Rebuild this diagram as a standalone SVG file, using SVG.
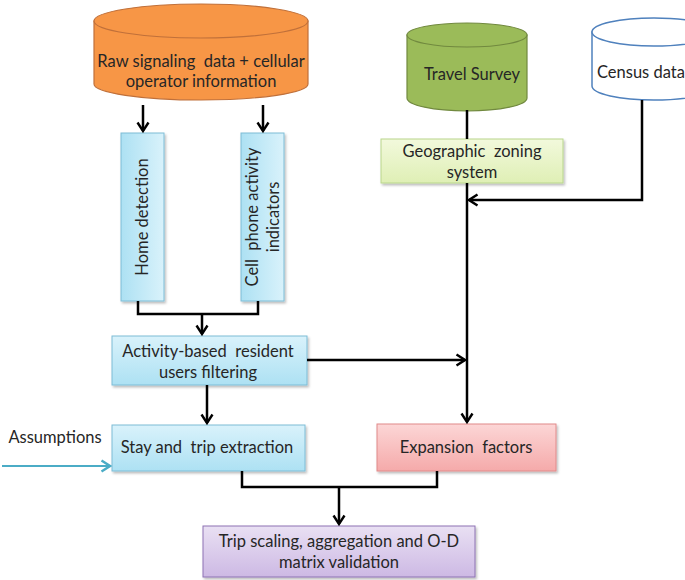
<svg xmlns="http://www.w3.org/2000/svg" width="685" height="580" viewBox="0 0 685 580" xml:space="preserve">
<defs>
<linearGradient id="gBlue" x1="0" y1="0" x2="0" y2="1"><stop offset="0" stop-color="#d9f2fb"/><stop offset="1" stop-color="#ade1f3"/></linearGradient>
<linearGradient id="gBlueH" x1="0" y1="0" x2="1" y2="0"><stop offset="0" stop-color="#ade1f3"/><stop offset="1" stop-color="#d9f2fb"/></linearGradient>
<linearGradient id="gPink" x1="0" y1="0" x2="0" y2="1"><stop offset="0" stop-color="#fcd6d6"/><stop offset="1" stop-color="#f5aaaa"/></linearGradient>
<linearGradient id="gPurple" x1="0" y1="0" x2="0" y2="1"><stop offset="0" stop-color="#e9e0f3"/><stop offset="1" stop-color="#cdb9e4"/></linearGradient>
<linearGradient id="gGeo" x1="0" y1="0" x2="0" y2="1"><stop offset="0" stop-color="#f2f9dc"/><stop offset="1" stop-color="#dfefb5"/></linearGradient>
<filter id="sh" x="-10%" y="-10%" width="130%" height="140%"><feDropShadow dx="1.5" dy="2" stdDeviation="1.2" flood-color="#000" flood-opacity="0.25"/></filter>
<marker id="arr" viewBox="0 0 12 14" refX="10" refY="7" markerWidth="12" markerHeight="14" markerUnits="userSpaceOnUse" orient="auto"><path d="M1.5,1.5 L10,7 L1.5,12.5" fill="none" stroke="#000" stroke-width="2.4"/></marker>
<marker id="arrB" viewBox="0 0 12 14" refX="10" refY="7" markerWidth="12" markerHeight="14" markerUnits="userSpaceOnUse" orient="auto"><path d="M1.5,1.5 L10,7 L1.5,12.5" fill="none" stroke="#4bacc6" stroke-width="2.4"/></marker>
</defs>
<style>
text{font-family:Lato,"Open Sans","Liberation Sans",sans-serif;font-size:16.5px;fill:#262626;text-anchor:middle;white-space:pre}
.c{fill:none;stroke:#000;stroke-width:2.5}
.blue{fill:url(#gBlue);stroke:#7dbcd6;stroke-width:1;filter:url(#sh)}
.blueV{fill:url(#gBlueH);stroke:#7dbcd6;stroke-width:1;filter:url(#sh)}
.box{filter:url(#sh)}
</style>
<rect width="685" height="580" fill="#fff"/>

<g id="raw">
<path d="M94,21 L94,84 A107,16 0 0 0 308,84 L308,21 Z" fill="#f79646" stroke="#c0703a" stroke-width="1.2"/>
<ellipse cx="201" cy="21" rx="107" ry="17" fill="#f79646" stroke="#c0703a" stroke-width="1.2"/>
<text x="201" y="67">Raw signaling  data + cellular</text>
<text x="201" y="87">operator information</text>
</g>

<g id="travel">
<path d="M407,35 L407,98 A60,13 0 0 0 527,98 L527,35 Z" fill="#9bbb59" stroke="#71893f" stroke-width="1.2"/>
<ellipse cx="467" cy="35" rx="60" ry="12" fill="#9bbb59" stroke="#71893f" stroke-width="1.2"/>
<text x="472" y="80">Travel Survey</text>
</g>

<g id="census">
<path d="M592,32 L592,86 A62,14 0 0 0 716,86 L716,32 Z" fill="#fff" stroke="#4f81bd" stroke-width="1.5"/>
<ellipse cx="654" cy="32" rx="62" ry="14" fill="#fff" stroke="#4f81bd" stroke-width="1.5"/>
<text x="597" y="78" style="text-anchor:start">Census data</text>
</g>

<g id="geo">
<rect x="381" y="139" width="182" height="44" fill="url(#gGeo)" stroke="#b9d68c" stroke-width="1" class="box"/>
<text x="472" y="157">Geographic  zoning</text>
<text x="472" y="178">system</text>
</g>

<g id="home">
<rect x="121" y="133" width="43" height="168" class="blueV"/>
<text transform="translate(148,217) rotate(-90)">Home detection</text>
</g>

<g id="cell">
<rect x="241" y="133" width="43" height="168" class="blueV"/>
<text transform="translate(258,217) rotate(-90)">Cell  phone activity</text>
<text transform="translate(279,217) rotate(-90)">indicators</text>
</g>

<g id="activity">
<rect x="112" y="336" width="195" height="49" class="blue"/>
<text x="208" y="357">Activity-based  resident</text>
<text x="208" y="378">users filtering</text>
</g>

<g id="stay">
<rect x="112" y="425" width="193" height="46" class="blue"/>
<text x="207" y="453">Stay and  trip extraction</text>
</g>

<g id="expansion">
<rect x="377" y="424" width="179" height="47" fill="url(#gPink)" stroke="#e08a8a" stroke-width="1" class="box"/>
<text x="466" y="453">Expansion  factors</text>
</g>

<g id="trip">
<rect x="203" y="526" width="272" height="51" fill="url(#gPurple)" stroke="#8d72b3" stroke-width="1" class="box"/>
<text x="339" y="547">Trip scaling, aggregation and O-D</text>
<text x="339" y="568">matrix validation</text>
</g>

<g id="assumptions">
<text x="55" y="443">Assumptions</text>
</g>

<g id="connectors">
<line x1="143" y1="105" x2="143" y2="131" class="c" marker-end="url(#arr)"/>
<line x1="263" y1="105" x2="263" y2="131" class="c" marker-end="url(#arr)"/>
<polyline points="138,301 138,314 258,314 258,301" class="c"/>
<line x1="202" y1="314" x2="202" y2="334" class="c" marker-end="url(#arr)"/>
<line x1="467" y1="110" x2="467" y2="139" class="c"/>
<line x1="467" y1="183" x2="467" y2="422" class="c" marker-end="url(#arr)"/>
<polyline points="642,100 642,200 469,200" class="c" marker-end="url(#arr)"/>
<line x1="307" y1="360" x2="465" y2="360" class="c" marker-end="url(#arr)"/>
<line x1="207" y1="385" x2="207" y2="423" class="c" marker-end="url(#arr)"/>
<polyline points="242,471 242,487 437,487 437,471" class="c"/>
<line x1="339" y1="487" x2="339" y2="524" class="c" marker-end="url(#arr)"/>
<line x1="2" y1="466" x2="110" y2="466" fill="none" stroke="#4bacc6" stroke-width="2.2" marker-end="url(#arrB)"/>
</g>
</svg>
